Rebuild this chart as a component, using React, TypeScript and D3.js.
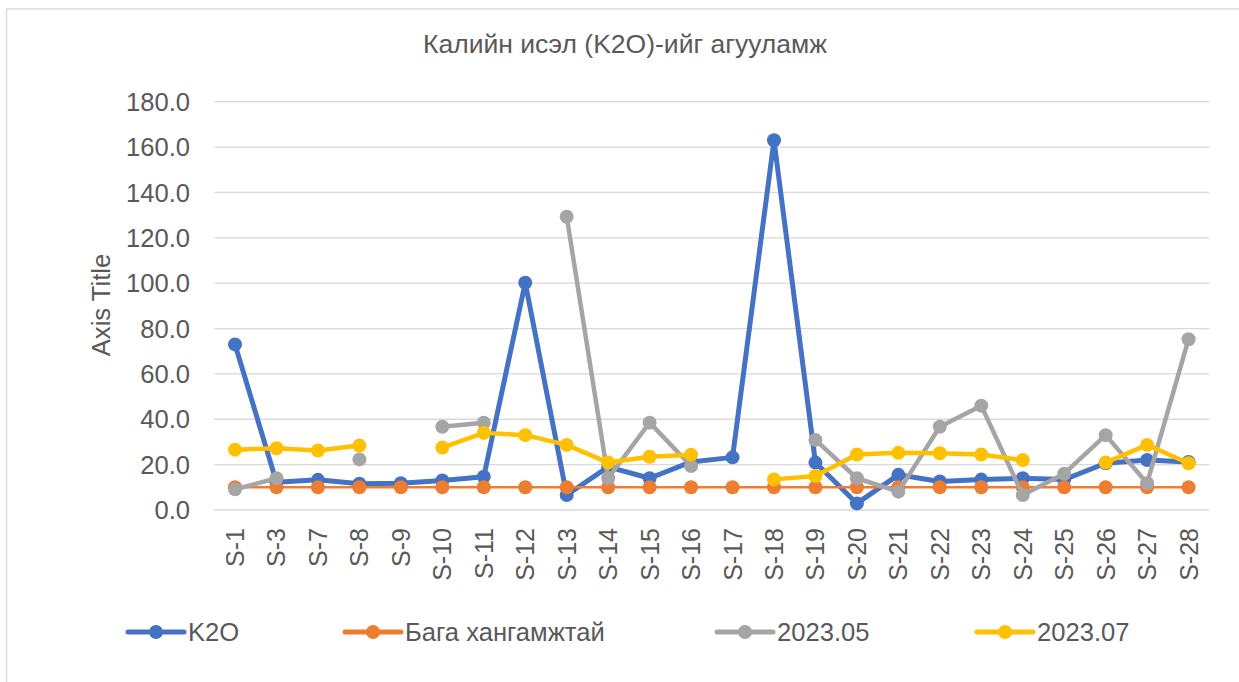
import React from "react";
import * as d3 from "d3";

const categories = ["S-1","S-3","S-7","S-8","S-9","S-10","S-11","S-12","S-13","S-14","S-15","S-16","S-17","S-18","S-19","S-20","S-21","S-22","S-23","S-24","S-25","S-26","S-27","S-28"];
const k2o: (number | null)[] = [73.0,12.2,13.3,11.6,11.8,13.0,14.7,100.2,6.6,19.0,14.0,21.2,23.2,163.0,20.9,2.9,15.5,12.6,13.4,14.0,13.4,20.6,22.0,21.2];
const bagaHangamj: (number | null)[] = [10,10,10,10,10,10,10,10,10,10,10,10,10,10,10,10,10,10,10,10,10,10,10,10];
const s202305: (number | null)[] = [9.1,14.0,null,22.3,null,36.7,38.5,null,129.3,14.0,38.5,19.4,null,null,30.9,14.0,8.1,36.7,46.0,6.6,16.0,33.0,11.8,75.3];
const s202307: (number | null)[] = [26.6,27.2,26.2,28.4,null,27.5,34.0,33.0,28.7,20.9,23.5,24.4,null,13.5,15.0,24.5,25.2,25.0,24.5,22.0,null,20.9,28.7,20.6];
const yTicks = [0,20,40,60,80,100,120,140,160,180];
const titleText = "Калийн исэл (K2O)-ийг агууламж";
const axisTitle = "Axis Title";

const seriesList = [
  { name: "K2O", values: k2o, color: "#4472C4", width: 5 },
  { name: "Бага хангамжтай", values: bagaHangamj, color: "#ED7D31", width: 2.5 },
  { name: "2023.05", values: s202305, color: "#A5A5A5", width: 4.5 },
  { name: "2023.07", values: s202307, color: "#FFC000", width: 4.5 },
];
const legendX = [128, 345, 717, 977];

export default function App() {
  const W = 1239, H = 682;
  const x = d3.scaleBand<string>().domain(categories).range([214.3, 1209.3]);
  const y = d3.scaleLinear().domain([0, 180]).range([510, 101.7]);
  const cx = (c: string) => (x(c) as number) + x.bandwidth() / 2;
  const font = "Arial, 'Liberation Sans', sans-serif";
  const textColor = "#595959";

  return (
    <svg width={W} height={H} style={{ position: "absolute", left: 0, top: 0, background: "#fff" }} fontFamily={font}>
      <rect x={0} y={0} width={W} height={H} fill="#fff" />
      <rect x={6.5} y={9} width={1300} height={800} fill="none" stroke="#d9d9d9" strokeWidth={1.5} />
      <text x={625} y={53} textAnchor="middle" fontSize={26.5} fill={textColor}>{titleText}</text>
      {yTicks.map((t) => (
        <g key={t}>
          <line x1={214.3} x2={1209.3} y1={y(t)} y2={y(t)} stroke="#d9d9d9" strokeWidth={1.3} />
          <text x={190} y={y(t)} dy="0.36em" textAnchor="end" fontSize={25.6} fill={textColor}>{t.toFixed(1)}</text>
        </g>
      ))}
      <text transform={`translate(110,305) rotate(-90)`} textAnchor="middle" fontSize={25.6} fill={textColor}>{axisTitle}</text>
      {categories.map((c) => (
        <text key={c} transform={`translate(${cx(c) + 9},528) rotate(-90)`} textAnchor="end" fontSize={25} fill={textColor}>{c}</text>
      ))}
      {seriesList.map((s) => {
        const pts = categories.map((c, i) => ({ c, v: s.values[i] }));
        const line = d3.line<{ c: string; v: number | null }>()
          .defined((d) => d.v != null)
          .x((d) => cx(d.c))
          .y((d) => y(d.v as number));
        return (
          <g key={s.name}>
            <path d={line(pts) || ""} fill="none" stroke={s.color} strokeWidth={s.width} strokeLinejoin="round" strokeLinecap="round" />
            {pts.filter((d) => d.v != null).map((d) => (
              <circle key={d.c} cx={cx(d.c)} cy={y(d.v as number)} r={7} fill={s.color} />
            ))}
          </g>
        );
      })}
      {seriesList.map((s, i) => (
        <g key={s.name} transform={`translate(${legendX[i]},632)`}>
          <line x1={0} x2={56} y1={0} y2={0} stroke={s.color} strokeWidth={5} strokeLinecap="round" />
          <circle cx={28} cy={0} r={7} fill={s.color} />
          <text x={60} y={0} dy="0.36em" fontSize={25.6} fill={textColor}>{s.name}</text>
        </g>
      ))}
    </svg>
  );
}
